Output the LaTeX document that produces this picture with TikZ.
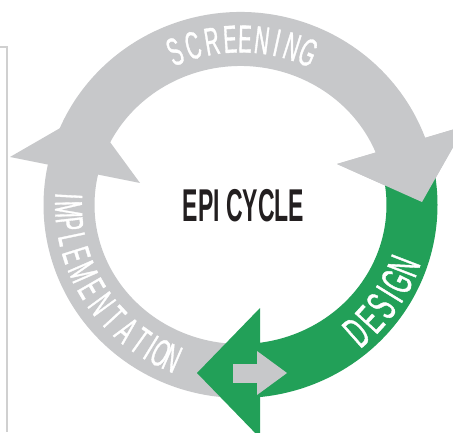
\documentclass[tikz,border=0pt]{standalone}
\usepackage{fontspec}
\setmainfont{Liberation Sans}
\newfontfamily\arcfont[FakeStretch=0.52,FakeBold=0.9]{Liberation Sans}
\newfontfamily\titlefont[FakeStretch=0.5]{Liberation Sans}
\definecolor{bandgray}{RGB}{199,200,202}
\definecolor{bandgreen}{RGB}{34,160,88}
\definecolor{titleblack}{RGB}{35,31,32}
\definecolor{rulegray}{RGB}{208,208,208}
\begin{document}
\begin{tikzpicture}[x=1pt,y=1pt,
  graybody/.style={fill=bandgray, draw=none},
  greenbody/.style={fill=bandgreen, draw=none},
  arcletter/.style={text=white, inner sep=0pt, font=\arcfont\fontsize{39}{39}\selectfont},
  designletter/.style={text=white, inner sep=0pt, font=\arcfont\fontsize{44}{44}\selectfont},
  titletext/.style={text=titleblack, inner sep=0pt, font=\titlefont\bfseries\fontsize{46}{46}\selectfont},
  frameline/.style={draw=rulegray, line width=1.2pt}]
\useasboundingbox (0,0) rectangle (453,432);
\fill[white] (0,0) rectangle (453,432);
\clip (0,0) rectangle (453,432);

% frame rule
\coordinate (f1) at (0,385);
\coordinate (f2) at (7,385);
\coordinate (f3) at (7,0);
\draw[frameline] (f1) -- (f2) -- (f3);

% Screening band and head
\fill[graybody] ({240.5+197*cos(162)},{227+193*sin(162)})
  arc[start angle=162,end angle=19,x radius=197,y radius=193]
  -- ({240.5+146*cos(19)},{227+139*sin(19)})
  arc[start angle=19,end angle=162,x radius=146,y radius=139] -- cycle;
\fill[graybody] (337,268) -- (422,230) -- (465,306) -- cycle;

% Implementation band and head
\fill[graybody] ({240.5+197*cos(268)},{227+193*sin(268)})
  arc[start angle=268,end angle=166,x radius=197,y radius=193]
  -- ({240.5+146*cos(166)},{227+139*sin(166)})
  arc[start angle=166,end angle=268,x radius=146,y radius=139] -- cycle;
\fill[graybody] (10,275) -- (88,320) -- (140,249) -- cycle;

% Design band and head
\fill[greenbody] ({240.5+197*cos(18)},{227+193*sin(18)})
  arc[start angle=18,end angle=-86,x radius=197,y radius=193]
  -- ({240.5+146*cos(-86)},{227+139*sin(-86)})
  arc[start angle=-86,end angle=18,x radius=146,y radius=139] -- cycle;
\fill[greenbody] (260,124) -- (197,59) -- (260,-6) -- cycle;

% Screening head on top of design tail
\fill[graybody] (337,268) -- (422,230) -- (465,306) -- cycle;

% small gray arrow
\fill[graybody] (233,49) rectangle (257.5,68);
\fill[graybody] (257,81) -- (287,59) -- (257,37) -- cycle;

% labels
\foreach \ch/\t [count=\k] in {S/112.5,C/106.1,R/99.6,E/93.5,E/88.5,N/82.8,I/77.7,N/72.5,G/66.8}
  \node[arcletter, rotate={\t-90}] (scr\k) at ({240.5+171.5*cos(\t)},{227+166*sin(\t)}) {\ch};

\foreach \ch/\t [count=\k] in {I/177,M/181.5,P/186.5,L/191.8,E/197.4,M/203.6,E/210,N/216.3,T/222.5,A/228.6,T/234.4,I/238.6,O/242.4,N/246.6}
  \node[arcletter, rotate={\t+90}] (imp\k) at ({240.5+172*cos(\t)},{227+167*sin(\t)}) {\ch};

\foreach \ch/\t [count=\k] in {D/-48.5,E/-42.3,S/-36.5,I/-31.6,G/-26.8,N/-21}
  \node[designletter, rotate={\t+90}] (des\k) at ({240.5+175*cos(\t)},{227+170*sin(\t)}) {\ch};

\node[titletext] (title) at (243.5,226) {EPI CYCLE};
\end{tikzpicture}
\end{document}
